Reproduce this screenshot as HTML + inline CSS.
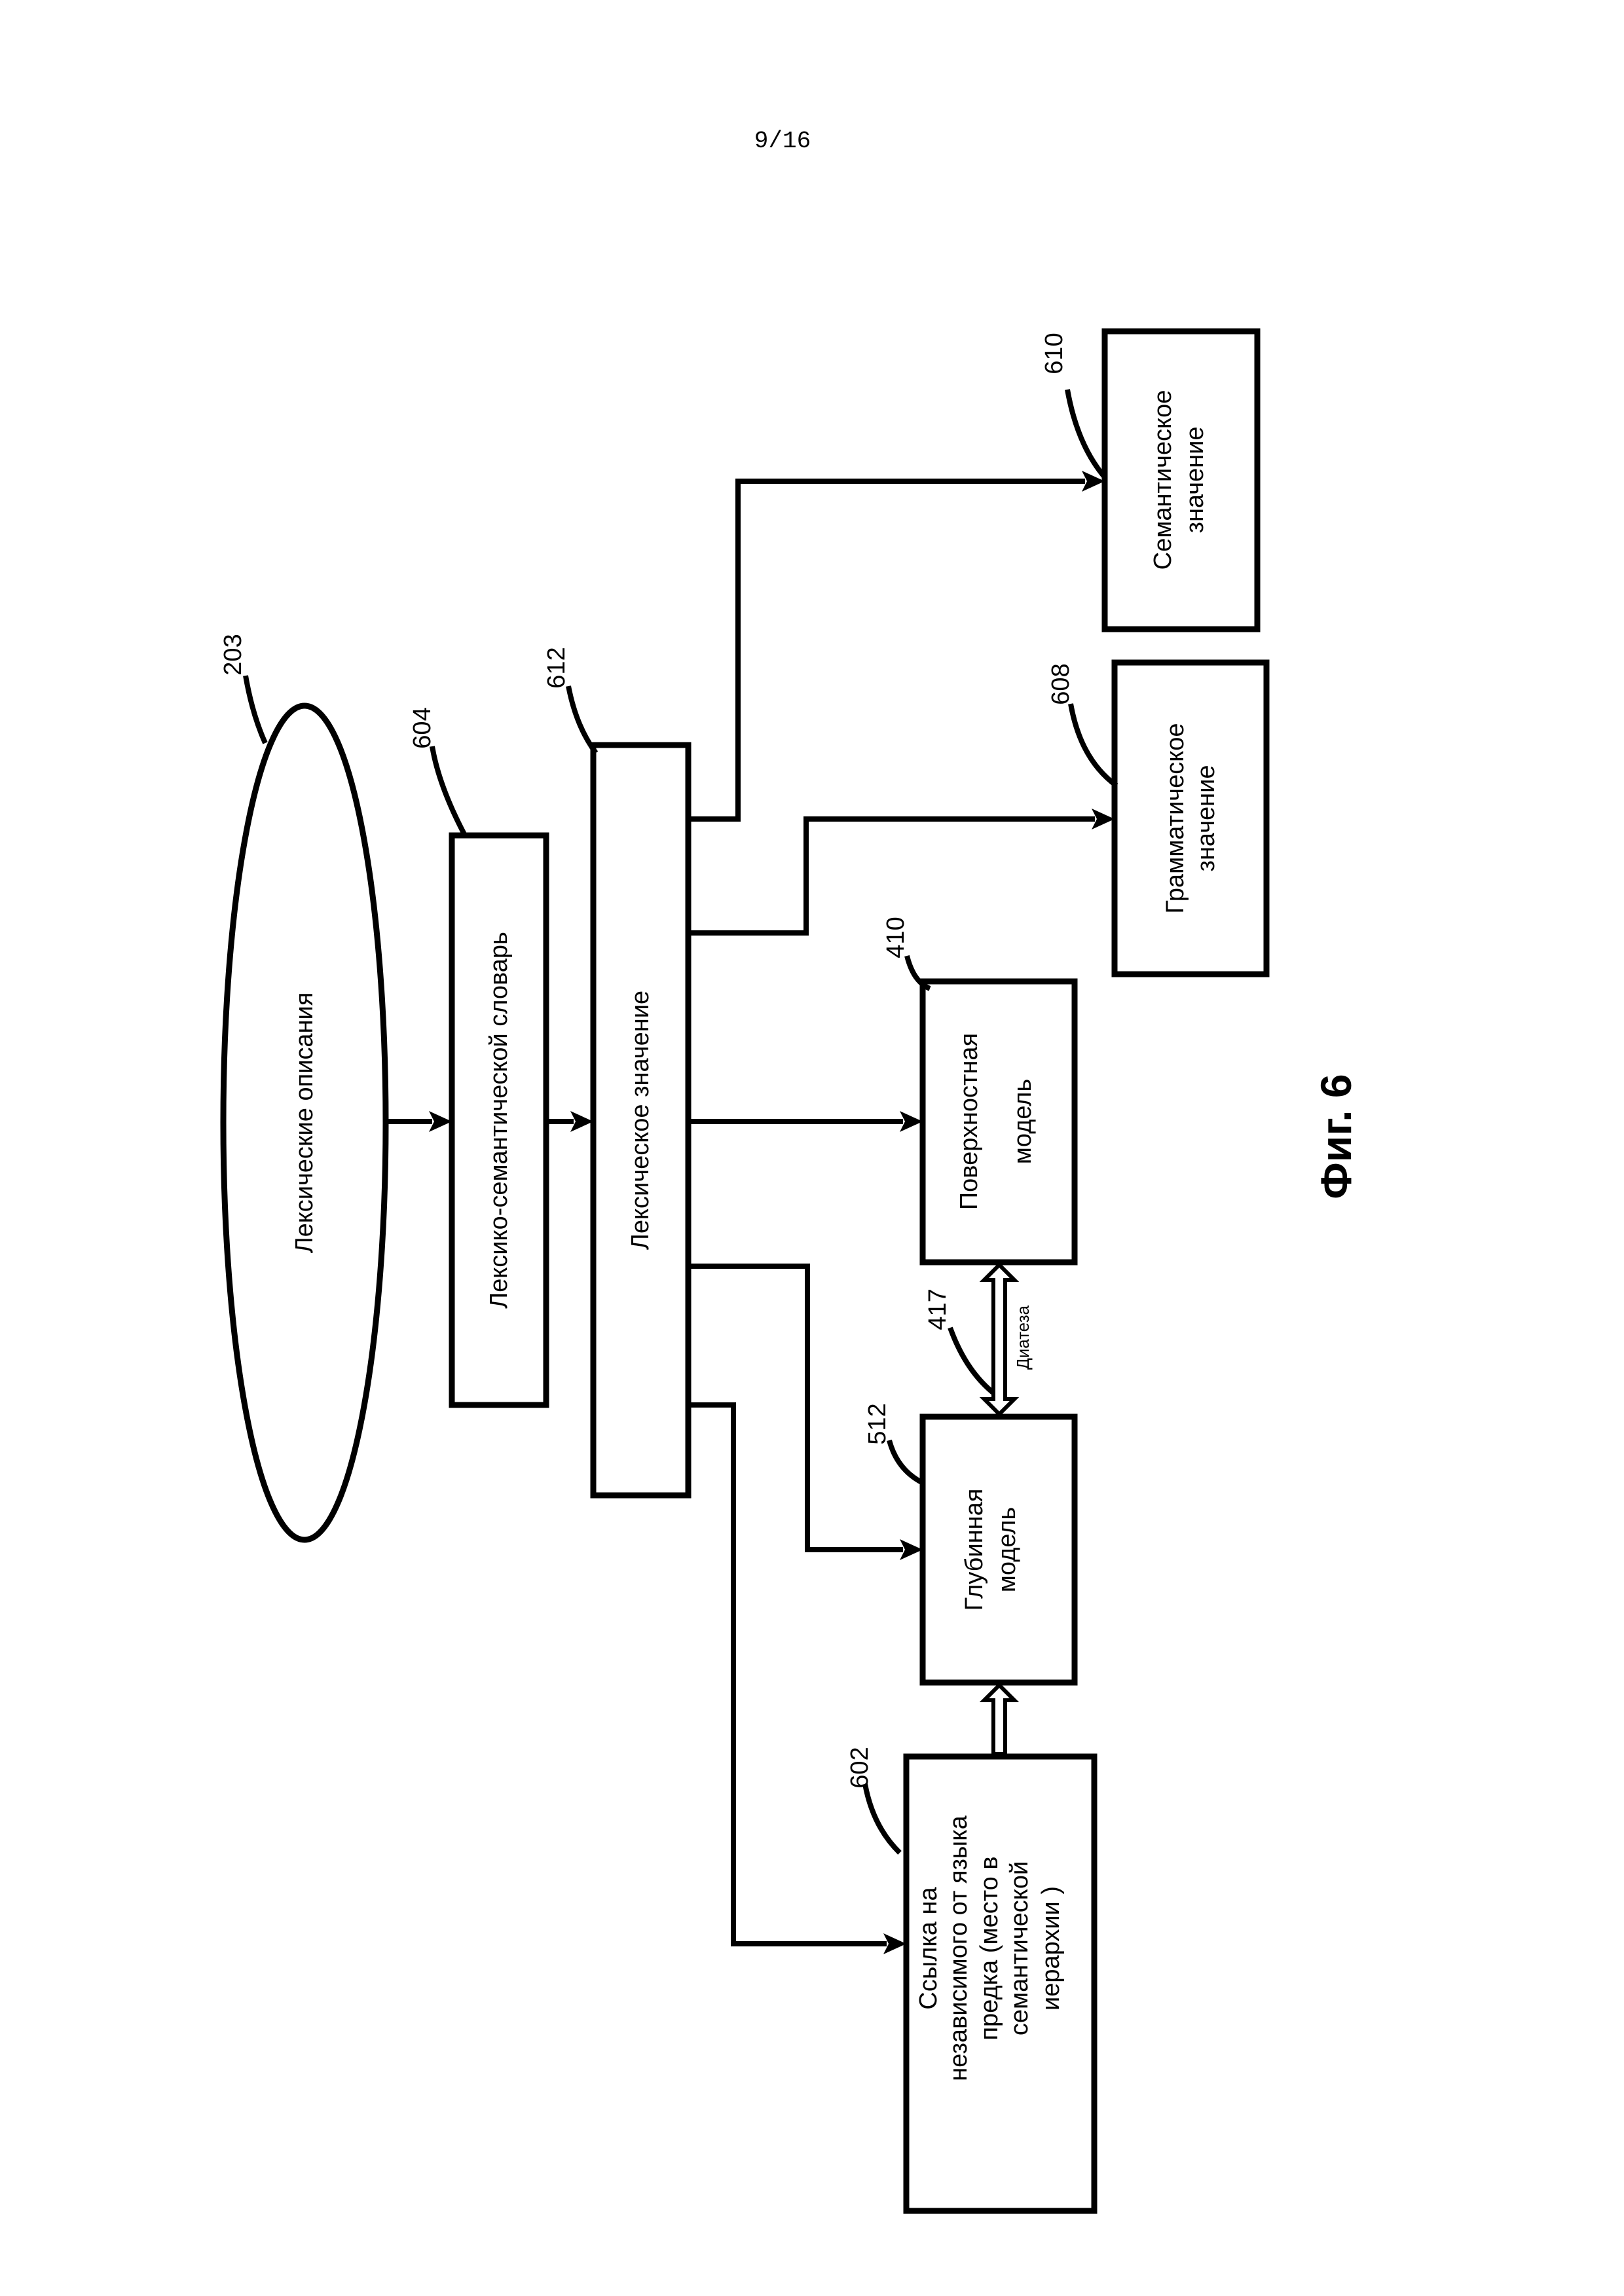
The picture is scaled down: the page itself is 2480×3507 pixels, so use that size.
<!DOCTYPE html>
<html><head><meta charset="utf-8"><style>html,body{margin:0;padding:0;background:#fff}svg{display:block}</style></head>
<body>
<svg width="2480" height="3507" viewBox="0 0 2480 3507" xmlns="http://www.w3.org/2000/svg">
<defs>
<marker id="ah" markerWidth="10" markerHeight="10" refX="9" refY="5" orient="auto" markerUnits="userSpaceOnUse" viewBox="0 0 10 10" style="overflow:visible">
</marker>
</defs>
<g font-family="Liberation Sans, DejaVu Sans, sans-serif" fill="#000">
<text x="1195" y="225" font-family="Liberation Mono, DejaVu Sans Mono, monospace" font-size="36" text-anchor="middle">9/16</text>
</g>
<g fill="none" stroke="#000" stroke-width="9">
<ellipse cx="465" cy="1715" rx="124" ry="637"/>
<rect x="690" y="1276" width="144" height="870"/>
<rect x="906" y="1138" width="145" height="1146"/>
<rect x="1409" y="1499" width="232" height="429"/>
<rect x="1409" y="2164" width="232" height="406"/>
<rect x="1384" y="2683" width="287" height="694"/>
<rect x="1702" y="1012" width="232" height="476"/>
<rect x="1687" y="506" width="233" height="455"/>
</g>
<g fill="none" stroke="#000" stroke-width="8">
<line x1="589" y1="1713" x2="660" y2="1713"/>
<line x1="838" y1="1713" x2="876" y2="1713"/>
<line x1="1055" y1="1713" x2="1379" y2="1713"/>
<polyline points="1055,1251 1127,1251 1127,735 1657,735"/>
<polyline points="1055,1425 1231,1425 1231,1251 1672,1251"/>
<polyline points="1055,1934 1233,1934 1233,2367 1379,2367"/>
<polyline points="1055,2146 1120,2146 1120,2969 1354,2969"/>
<path d="M375,1032 Q385,1090 405,1135"/>
<path d="M660,1140 Q670,1200 710,1276"/>
<path d="M868,1048 Q880,1110 910,1150"/>
<path d="M1385,1460 Q1395,1500 1420,1510"/>
<path d="M1635,1075 Q1650,1160 1705,1200"/>
<path d="M1630,595 Q1645,680 1688,730"/>
<path d="M1451,2028 Q1475,2095 1520,2130"/>
<path d="M1358,2200 Q1370,2245 1409,2265"/>
<path d="M1321,2725 Q1333,2790 1374,2830"/>
</g>
<g fill="#000">
<polygon points="690,1713 655,1697 663,1713 655,1729"/>
<polygon points="906,1713 871,1697 879,1713 871,1729"/>
<polygon points="1409,1713 1374,1697 1382,1713 1374,1729"/>
<polygon points="1687,735 1652,719 1660,735 1652,751"/>
<polygon points="1702,1251 1667,1235 1675,1251 1667,1267"/>
<polygon points="1409,2367 1374,2351 1382,2367 1374,2383"/>
<polygon points="1384,2969 1349,2953 1357,2969 1349,2985"/>
</g>
<!-- hollow double arrow 417 -->
<g fill="#fff" stroke="#000" stroke-width="6">
<path d="M1526,1932 L1549,1955 L1535,1955 L1535,2137 L1549,2137 L1526,2160 L1503,2137 L1517,2137 L1517,1955 L1503,1955 Z"/>
<path d="M1526,2574 L1549,2597 L1535,2597 L1535,2679 L1517,2679 L1517,2597 L1503,2597 Z"/>
</g>
<g font-family="Liberation Sans, DejaVu Sans, sans-serif" fill="#000" font-size="38" text-anchor="middle">
<text transform="translate(465,1715) rotate(-90)" dominant-baseline="central">Лексические описания</text>
<text transform="translate(762,1711) rotate(-90)" dominant-baseline="central">Лексико-семантической словарь</text>
<text transform="translate(978,1711) rotate(-90)" dominant-baseline="central">Лексическое значение</text>
<text transform="translate(1480,1713) rotate(-90)" dominant-baseline="central">Поверхностная</text>
<text transform="translate(1562,1713) rotate(-90)" dominant-baseline="central">модель</text>
<text transform="translate(1488,2367) rotate(-90)" dominant-baseline="central">Глубинная</text>
<text transform="translate(1538,2367) rotate(-90)" dominant-baseline="central">модель</text>
<text transform="translate(1418,2976) rotate(-90)" dominant-baseline="central">Ссылка на</text>
<text transform="translate(1464,2976) rotate(-90)" dominant-baseline="central">независимого от языка</text>
<text transform="translate(1511,2976) rotate(-90)" dominant-baseline="central">предка (место в</text>
<text transform="translate(1557,2976) rotate(-90)" dominant-baseline="central">семантической</text>
<text transform="translate(1605,2976) rotate(-90)" dominant-baseline="central">иерархии )</text>
<text transform="translate(1795,1250) rotate(-90)" dominant-baseline="central">Грамматическое</text>
<text transform="translate(1842,1250) rotate(-90)" dominant-baseline="central">значение</text>
<text transform="translate(1776,733) rotate(-90)" dominant-baseline="central">Семантическое</text>
<text transform="translate(1825,733) rotate(-90)" dominant-baseline="central">значение</text>
<text transform="translate(1562,2043) rotate(-90)" dominant-baseline="central" font-size="26">Диатеза</text>
<text transform="translate(356,1000) rotate(-90)" dominant-baseline="central">203</text>
<text transform="translate(645,1112) rotate(-90)" dominant-baseline="central">604</text>
<text transform="translate(850,1020) rotate(-90)" dominant-baseline="central">612</text>
<text transform="translate(1368,1432) rotate(-90)" dominant-baseline="central">410</text>
<text transform="translate(1620,1045) rotate(-90)" dominant-baseline="central">608</text>
<text transform="translate(1610,540) rotate(-90)" dominant-baseline="central">610</text>
<text transform="translate(1432,2000) rotate(-90)" dominant-baseline="central">417</text>
<text transform="translate(1340,2175) rotate(-90)" dominant-baseline="central">512</text>
<text transform="translate(1313,2700) rotate(-90)" dominant-baseline="central">602</text>
<text transform="translate(2040,1736) rotate(-90)" dominant-baseline="central" font-size="66" font-weight="bold">Фиг. 6</text>
</g>
</svg>
</body></html>
